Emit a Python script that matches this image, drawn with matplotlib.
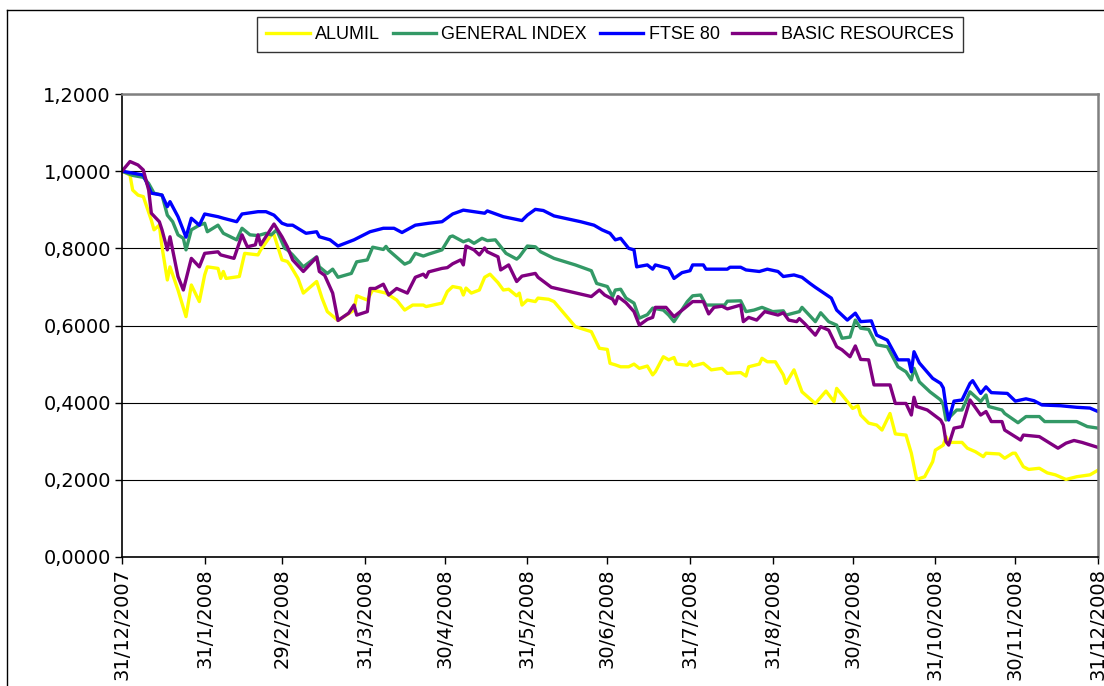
import matplotlib.pyplot as plt
import pandas as pd
from matplotlib.lines import Line2D

plt.rcParams['font.family'] = ['Liberation Sans', 'DejaVu Sans']

start = pd.Timestamp('2007-12-31')

# values, x = days after 31/12/2007
alumil_days = [0, 3, 4, 6, 8, 11, 12, 14, 15, 17, 18, 21, 24, 26, 29, 31, 32, 36, 37, 38, 39, 44, 46, 51, 52, 56, 57, 60, 62,
               63, 66, 68, 70, 73, 75, 77, 81, 87, 88, 92, 94, 99, 103, 106, 109, 113, 114, 120, 122, 124,
               127, 128, 129, 131, 134, 136, 138, 141, 143, 145, 148, 149, 150, 152, 155, 156, 160, 162, 170, 176, 179, 182, 183, 185,
               187, 190, 192, 194, 197, 199, 200, 203, 205, 207, 208, 212, 213, 214, 218, 221, 225, 227, 232, 234, 235, 239, 240, 242, 245, 248,
               249, 252, 255, 260, 264, 267, 268, 272, 274, 276, 277, 280, 283, 285, 288, 290, 294, 296, 298, 301, 304, 305, 308, 309,
               310, 315, 317, 320, 323, 324, 329, 331, 334, 335, 338, 340, 344, 347, 350, 354, 358, 363, 366]
alumil_vals = [1.000, 0.990, 0.951, 0.938, 0.934, 0.873, 0.848, 0.860, 0.804, 0.718, 0.752, 0.692, 0.623, 0.705, 0.662, 0.731, 0.752, 0.748, 0.722, 0.740, 0.722, 0.727, 0.787, 0.783, 0.796, 0.835, 0.835, 0.770, 0.766,
               0.757, 0.722, 0.684, 0.696, 0.714, 0.671, 0.636, 0.613, 0.640, 0.677, 0.666, 0.692, 0.684, 0.666, 0.640, 0.653, 0.653, 0.649, 0.658, 0.688, 0.701,
               0.697, 0.679, 0.697, 0.684, 0.692, 0.725, 0.733, 0.711, 0.692, 0.694, 0.677, 0.684, 0.653, 0.666, 0.662, 0.671, 0.668, 0.662, 0.597, 0.584, 0.541, 0.538, 0.502, 0.498,
               0.493, 0.493, 0.500, 0.489, 0.495, 0.472, 0.480, 0.519, 0.511, 0.517, 0.500, 0.497, 0.506, 0.495, 0.502, 0.485, 0.489, 0.476, 0.478, 0.469, 0.493, 0.500, 0.515, 0.506, 0.506, 0.472,
               0.450, 0.485, 0.428, 0.398, 0.430, 0.403, 0.437, 0.403, 0.385, 0.392, 0.368, 0.347, 0.342, 0.329, 0.372, 0.319, 0.316, 0.269, 0.201, 0.208, 0.247, 0.277, 0.290, 0.312,
               0.297, 0.297, 0.282, 0.273, 0.260, 0.269, 0.267, 0.256, 0.269, 0.269, 0.234, 0.227, 0.230, 0.218, 0.213, 0.201, 0.208, 0.213, 0.225]

general_days = [0, 4, 8, 10, 12, 15, 17, 19, 21, 23, 24, 26, 29, 31, 32, 36, 38, 43, 45, 48, 51, 54, 56, 58, 61, 62,
                64, 68, 73, 74, 77, 79, 81, 86, 88, 92, 94, 98, 99, 100, 106, 108, 110, 113, 115, 120, 123, 124,
                128, 130, 132, 135, 137, 140, 144, 148, 149, 152, 155, 157, 162, 170, 176, 178, 182, 184, 185,
                187, 189, 192, 194, 197, 199, 203, 205, 207, 212, 214, 217, 219, 226, 227, 232, 234, 237, 240, 244, 248,
                249, 254, 255, 260, 262, 265, 268, 270, 273, 275, 277, 280, 283, 287, 291, 294, 296, 297, 299, 303, 307,
                308, 309, 310, 313, 315, 318, 322, 324, 325, 330, 331, 336, 339, 344, 346, 350, 358, 362, 366]
general_vals = [1.000, 0.989, 0.984, 0.968, 0.943, 0.938, 0.886, 0.869, 0.835, 0.826, 0.796, 0.848, 0.860, 0.865, 0.843, 0.860, 0.839, 0.822, 0.852, 0.835, 0.833, 0.839, 0.835, 0.848, 0.800, 0.796,
                0.783, 0.752, 0.778, 0.752, 0.735, 0.746, 0.725, 0.735, 0.765, 0.770, 0.803, 0.797, 0.805, 0.795, 0.759, 0.765, 0.787, 0.780, 0.785, 0.796, 0.830, 0.832,
                0.817, 0.822, 0.813, 0.826, 0.820, 0.822, 0.787, 0.772, 0.778, 0.806, 0.804, 0.791, 0.774, 0.757, 0.742, 0.709, 0.701, 0.675, 0.692,
                0.694, 0.671, 0.658, 0.619, 0.628, 0.645, 0.640, 0.627, 0.610, 0.662, 0.677, 0.679, 0.653, 0.653, 0.663, 0.664, 0.636, 0.640, 0.647, 0.636, 0.638,
                0.627, 0.636, 0.647, 0.610, 0.633, 0.610, 0.601, 0.567, 0.570, 0.614, 0.593, 0.590, 0.550, 0.545, 0.493, 0.480, 0.459, 0.489, 0.454, 0.428, 0.407,
                0.394, 0.355, 0.360, 0.381, 0.381, 0.428, 0.403, 0.420, 0.390, 0.381, 0.372, 0.348, 0.364, 0.364, 0.351, 0.351, 0.351, 0.338, 0.334]

ftse_days = [0, 4, 8, 11, 15, 17, 18, 21, 24, 26, 29, 31, 36, 38, 43, 45, 51, 54, 57, 60, 62,
             64, 69, 73, 74, 78, 81, 87, 93, 98, 102, 105, 110, 115, 120, 124,
             128, 136, 137, 143, 150, 152, 155, 158, 162, 172, 177, 180, 183, 185,
             187, 190, 192, 193, 197, 199, 200, 205, 207, 210, 213, 214, 218, 219, 227, 228, 232, 234, 239, 242, 246,
             248, 252, 255, 258, 260, 266, 268, 272, 275, 277, 281, 283, 287, 291, 295, 296, 297, 299, 304, 307, 308,
             309, 310, 312, 315, 318, 319, 322, 324, 326, 332, 335, 339, 342, 345, 352, 358, 363, 366]
ftse_vals = [1.000, 0.995, 0.990, 0.943, 0.938, 0.908, 0.921, 0.882, 0.829, 0.878, 0.860, 0.889, 0.882, 0.878, 0.869, 0.889, 0.895, 0.895, 0.886, 0.865, 0.860,
             0.860, 0.839, 0.843, 0.830, 0.822, 0.806, 0.822, 0.843, 0.852, 0.852, 0.841, 0.860, 0.865, 0.869, 0.889,
             0.899, 0.891, 0.897, 0.882, 0.872, 0.886, 0.901, 0.898, 0.884, 0.869, 0.860, 0.848, 0.839, 0.822,
             0.826, 0.800, 0.796, 0.752, 0.757, 0.746, 0.757, 0.748, 0.722, 0.737, 0.742, 0.757, 0.757, 0.746, 0.746, 0.751, 0.751, 0.744, 0.740, 0.746, 0.740,
             0.727, 0.731, 0.725, 0.709, 0.699, 0.671, 0.640, 0.614, 0.632, 0.610, 0.612, 0.575, 0.562, 0.511, 0.511, 0.480, 0.532, 0.503, 0.463, 0.450, 0.438,
             0.390, 0.355, 0.404, 0.407, 0.450, 0.457, 0.424, 0.441, 0.426, 0.424, 0.404, 0.410, 0.405, 0.394, 0.392, 0.388, 0.386, 0.377]

basic_days = [0, 3, 6, 8, 10, 11, 14, 15, 17, 18, 21, 23, 26, 29, 31, 36, 37, 42, 45, 47, 50, 51, 52, 57, 60, 62,
              64, 68, 73, 74, 76, 79, 81, 85, 87, 88, 92, 93, 95, 98, 100, 103, 107, 110, 113, 114, 115, 120, 122, 124,
              127, 128, 129, 132, 134, 136, 137, 141, 142, 145, 148, 150, 155, 156, 161, 176, 179, 181, 184, 185,
              186, 189, 192, 194, 197, 199, 200, 204, 207, 211, 214, 218, 220, 222, 225, 227, 232, 233, 235, 238, 241, 246, 248,
              250, 253, 254, 256, 260, 262, 265, 268, 270, 273, 275, 277, 280, 282, 288, 290, 294, 296, 297, 298, 302, 307, 308, 309, 310,
              312, 315, 318, 322, 324, 326, 330, 331, 337, 338, 344, 348, 351, 354, 357, 360, 366]
basic_vals = [1.000, 1.025, 1.016, 1.003, 0.951, 0.891, 0.869, 0.848, 0.796, 0.830, 0.727, 0.692, 0.774, 0.752, 0.787, 0.791, 0.783, 0.774, 0.835, 0.804, 0.809, 0.835, 0.809, 0.863, 0.830, 0.804,
              0.770, 0.740, 0.777, 0.740, 0.730, 0.684, 0.613, 0.632, 0.653, 0.627, 0.636, 0.696, 0.696, 0.707, 0.679, 0.696, 0.684, 0.725, 0.733, 0.725, 0.739, 0.748, 0.750, 0.760,
              0.770, 0.757, 0.806, 0.796, 0.783, 0.801, 0.791, 0.778, 0.744, 0.757, 0.714, 0.728, 0.735, 0.725, 0.699, 0.675, 0.692, 0.679, 0.668, 0.656,
              0.675, 0.659, 0.636, 0.601, 0.616, 0.621, 0.647, 0.647, 0.623, 0.645, 0.662, 0.662, 0.630, 0.647, 0.650, 0.643, 0.653, 0.610, 0.621, 0.614, 0.636, 0.627, 0.633,
              0.614, 0.610, 0.618, 0.605, 0.575, 0.597, 0.588, 0.545, 0.537, 0.519, 0.547, 0.512, 0.511, 0.446, 0.446, 0.398, 0.398, 0.368, 0.414, 0.390, 0.381, 0.355, 0.342, 0.299, 0.290,
              0.334, 0.338, 0.407, 0.368, 0.377, 0.351, 0.351, 0.329, 0.303, 0.316, 0.312, 0.295, 0.282, 0.295, 0.302, 0.297, 0.284]

x_labels = ['31/12/2007', '31/1/2008', '29/2/2008', '31/3/2008', '30/4/2008', '31/5/2008', '30/6/2008',
            '31/7/2008', '31/8/2008', '30/9/2008', '31/10/2008', '30/11/2008', '31/12/2008']
y_ticks = [0.0, 0.2, 0.4, 0.6, 0.8, 1.0, 1.2]


def to_dates(days):
    return start + pd.to_timedelta(days, unit='D')


fig = plt.figure(figsize=(11.04, 6.86), dpi=100)
ax = fig.add_axes([122 / 1104, 1 - 557 / 686, 976 / 1104, 463 / 686])

ax.plot(to_dates(alumil_days), alumil_vals, color='#FFFF00', lw=2.4, label='ALUMIL')
ax.plot(to_dates(general_days), general_vals, color='#339966', lw=2.4, label='GENERAL INDEX')
ax.plot(to_dates(ftse_days), ftse_vals, color='#0000FF', lw=2.4, label='FTSE 80')
ax.plot(to_dates(basic_days), basic_vals, color='#800080', lw=2.4, label='BASIC RESOURCES')

tick_dates = pd.to_datetime(x_labels, format='%d/%m/%Y')
ax.set_xlim(tick_dates[0], tick_dates[-1])
ax.set_xticks(tick_dates)
ax.set_xticklabels(x_labels, rotation=90, fontsize=14, family='DejaVu Sans')

ax.set_ylim(0, 1.2)
ax.set_yticks(y_ticks)
ax.set_yticklabels([f'{v:.4f}'.replace('.', ',') for v in y_ticks], fontsize=14, family='DejaVu Sans')

ax.tick_params(direction='out', length=5, width=1, color='black', pad=3)
ax.grid(axis='y', color='black', lw=0.8)
ax.set_axisbelow(True)
for side in ['left', 'bottom']:
    ax.spines[side].set_color('black')
    ax.spines[side].set_linewidth(1.2)
for side in ['top', 'right']:
    ax.spines[side].set_color('#808080')
    ax.spines[side].set_linewidth(1.8)

leg = fig.legend(loc='upper center', bbox_to_anchor=(610 / 1104, 1 - 17 / 686), ncol=4,
                 fontsize=13, frameon=True, fancybox=False, edgecolor='black',
                 handlelength=2.4, handletextpad=0.3, columnspacing=0.7,
                 borderpad=0.5, borderaxespad=0)
leg.get_frame().set_linewidth(1.0)

# outer chart border (cut off at the right and bottom)
fig.add_artist(Line2D([7 / 1104, 7 / 1104], [0, 1 - 10 / 686], transform=fig.transFigure, color='black', lw=1))
fig.add_artist(Line2D([7 / 1104, 1], [1 - 10 / 686, 1 - 10 / 686], transform=fig.transFigure, color='black', lw=1))

fig.savefig('out.png', dpi=100)
